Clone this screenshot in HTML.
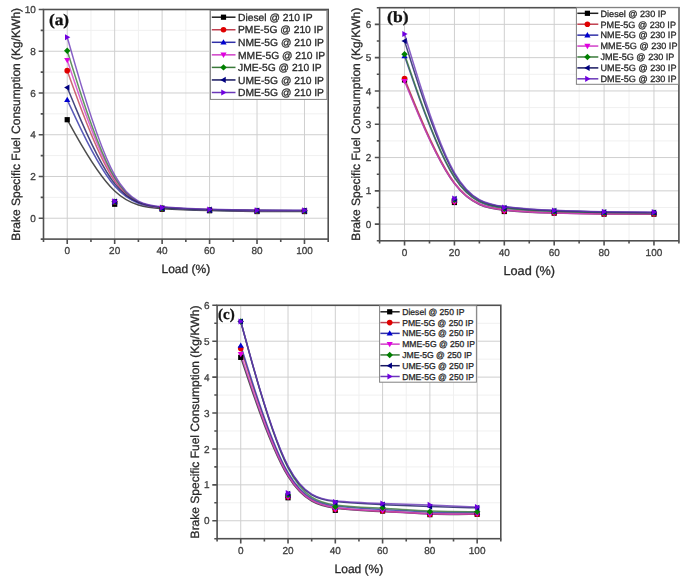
<!DOCTYPE html>
<html><head><meta charset="utf-8"><style>
html,body{margin:0;padding:0;background:#fff;width:685px;height:581px;overflow:hidden}
svg{display:block;filter:blur(0.45px);text-rendering:geometricPrecision}
text{fill:#2a2a2a;stroke:#2a2a2a;stroke-width:0.3px}
.tk{fill:#404040;stroke:#404040}
</style></head><body>
<svg width="685" height="581" viewBox="0 0 685 581" font-family='"Liberation Sans", sans-serif' fill="#222">
<line x1="90.95" y1="9.5" x2="90.95" y2="239.1" stroke="#f0f0f0" stroke-width="1"/>
<line x1="138.4" y1="9.5" x2="138.4" y2="239.1" stroke="#f0f0f0" stroke-width="1"/>
<line x1="185.85" y1="9.5" x2="185.85" y2="239.1" stroke="#f0f0f0" stroke-width="1"/>
<line x1="233.3" y1="9.5" x2="233.3" y2="239.1" stroke="#f0f0f0" stroke-width="1"/>
<line x1="280.75" y1="9.5" x2="280.75" y2="239.1" stroke="#f0f0f0" stroke-width="1"/>
<line x1="43.5" y1="197.35" x2="328.2" y2="197.35" stroke="#f0f0f0" stroke-width="1"/>
<line x1="43.5" y1="155.61" x2="328.2" y2="155.61" stroke="#f0f0f0" stroke-width="1"/>
<line x1="43.5" y1="113.86" x2="328.2" y2="113.86" stroke="#f0f0f0" stroke-width="1"/>
<line x1="43.5" y1="72.12" x2="328.2" y2="72.12" stroke="#f0f0f0" stroke-width="1"/>
<line x1="43.5" y1="30.37" x2="328.2" y2="30.37" stroke="#f0f0f0" stroke-width="1"/>
<line x1="67.22" y1="9.5" x2="67.22" y2="239.1" stroke="#cfcfcf" stroke-width="1"/>
<line x1="114.67" y1="9.5" x2="114.67" y2="239.1" stroke="#cfcfcf" stroke-width="1"/>
<line x1="162.12" y1="9.5" x2="162.12" y2="239.1" stroke="#cfcfcf" stroke-width="1"/>
<line x1="209.58" y1="9.5" x2="209.58" y2="239.1" stroke="#cfcfcf" stroke-width="1"/>
<line x1="257.02" y1="9.5" x2="257.02" y2="239.1" stroke="#cfcfcf" stroke-width="1"/>
<line x1="304.47" y1="9.5" x2="304.47" y2="239.1" stroke="#cfcfcf" stroke-width="1"/>
<line x1="43.5" y1="218.23" x2="328.2" y2="218.23" stroke="#cfcfcf" stroke-width="1"/>
<line x1="43.5" y1="176.48" x2="328.2" y2="176.48" stroke="#cfcfcf" stroke-width="1"/>
<line x1="43.5" y1="134.74" x2="328.2" y2="134.74" stroke="#cfcfcf" stroke-width="1"/>
<line x1="43.5" y1="92.99" x2="328.2" y2="92.99" stroke="#cfcfcf" stroke-width="1"/>
<line x1="43.5" y1="51.25" x2="328.2" y2="51.25" stroke="#cfcfcf" stroke-width="1"/>
<g fill="none" stroke-width="1.5" stroke-opacity="0.8">
<path d="M67.22,119.71C67.22,119.71 67.22,119.71 75.13,133.8C83.04,147.89 98.86,176.06 114.67,190.99C130.49,205.91 146.31,207.58 162.12,208.66C177.94,209.74 193.76,210.23 209.58,210.61C225.39,210.99 241.21,211.27 257.02,211.41C272.84,211.55 288.66,211.55 296.57,211.55C304.47,211.55 304.47,211.55 304.47,211.55" stroke="#202020"/>
<path d="M67.22,70.66C67.22,70.66 67.22,70.66 75.13,92.54C83.04,114.42 98.86,158.18 114.67,181.14C130.49,204.1 146.31,206.26 162.12,207.62C177.94,208.97 193.76,209.53 209.58,209.95C225.39,210.37 241.21,210.64 257.02,210.78C272.84,210.92 288.66,210.92 296.57,210.92C304.47,210.92 304.47,210.92 304.47,210.92" stroke="#c04050"/>
<path d="M67.22,99.88C67.22,99.88 67.22,99.88 75.13,116.89C83.04,133.9 98.86,167.92 114.67,186.05C130.49,204.17 146.31,206.4 162.12,207.79C177.94,209.18 193.76,209.74 209.58,210.16C225.39,210.57 241.21,210.85 257.02,210.99C272.84,211.13 288.66,211.13 296.57,211.13C304.47,211.13 304.47,211.13 304.47,211.13" stroke="#3030a8"/>
<path d="M67.22,60.22C67.22,60.22 67.22,60.22 75.13,83.77C83.04,107.32 98.86,154.43 114.67,179.09C130.49,203.76 146.31,205.98 162.12,207.37C177.94,208.76 193.76,209.32 209.58,209.74C225.39,210.16 241.21,210.43 257.02,210.57C272.84,210.71 288.66,210.71 296.57,210.71C304.47,210.71 304.47,210.71 304.47,210.71" stroke="#d040c8"/>
<path d="M67.22,50.83C67.22,50.83 67.22,50.83 75.13,75.98C83.04,101.13 98.86,151.43 114.67,177.66C130.49,203.89 146.31,206.05 162.12,207.41C177.94,208.76 193.76,209.32 209.58,209.74C225.39,210.16 241.21,210.43 257.02,210.57C272.84,210.71 288.66,210.71 296.57,210.71C304.47,210.71 304.47,210.71 304.47,210.71" stroke="#3a7a3a"/>
<path d="M67.22,87.56C67.22,87.56 67.22,87.56 75.13,106.56C83.04,125.55 98.86,163.54 114.67,183.61C130.49,203.69 146.31,205.84 162.12,207.2C177.94,208.56 193.76,209.11 209.58,209.53C225.39,209.95 241.21,210.23 257.02,210.37C272.84,210.5 288.66,210.5 296.57,210.5C304.47,210.5 304.47,210.5 304.47,210.5" stroke="#181860"/>
<path d="M67.22,37.26C67.22,37.26 67.22,37.26 75.13,64.6C83.04,91.95 98.86,146.63 114.67,175.02C130.49,203.41 146.31,205.49 162.12,206.85C177.94,208.21 193.76,208.83 209.58,209.29C225.39,209.74 241.21,210.02 257.02,210.16C272.84,210.3 288.66,210.3 296.57,210.3C304.47,210.3 304.47,210.3 304.47,210.3" stroke="#6a38b8"/>
</g>
<rect x="64.62" y="117.11" width="5.2" height="5.2" fill="#000000"/>
<rect x="112.08" y="201.64" width="5.2" height="5.2" fill="#000000"/>
<rect x="159.52" y="206.65" width="5.2" height="5.2" fill="#000000"/>
<rect x="206.97" y="208.11" width="5.2" height="5.2" fill="#000000"/>
<rect x="254.42" y="208.95" width="5.2" height="5.2" fill="#000000"/>
<rect x="301.87" y="208.95" width="5.2" height="5.2" fill="#000000"/>
<circle cx="67.22" cy="70.66" r="2.8" fill="#e00000"/>
<circle cx="114.67" cy="201.95" r="2.8" fill="#e00000"/>
<circle cx="162.12" cy="208.42" r="2.8" fill="#e00000"/>
<circle cx="209.58" cy="210.09" r="2.8" fill="#e00000"/>
<circle cx="257.02" cy="210.92" r="2.8" fill="#e00000"/>
<circle cx="304.47" cy="210.92" r="2.8" fill="#e00000"/>
<path d="M67.22,96.8L70.3,102.12L64.14,102.12Z" fill="#0000d0"/>
<path d="M114.67,198.87L117.75,204.19L111.59,204.19Z" fill="#0000d0"/>
<path d="M162.12,205.55L165.21,210.87L159.04,210.87Z" fill="#0000d0"/>
<path d="M209.58,207.22L212.66,212.54L206.5,212.54Z" fill="#0000d0"/>
<path d="M257.02,208.05L260.1,213.37L253.94,213.37Z" fill="#0000d0"/>
<path d="M304.47,208.05L307.55,213.37L301.39,213.37Z" fill="#0000d0"/>
<path d="M67.22,63.3L70.3,57.98L64.14,57.98Z" fill="#e000e0"/>
<path d="M114.67,204.61L117.75,199.29L111.59,199.29Z" fill="#e000e0"/>
<path d="M162.12,211.29L165.21,205.97L159.04,205.97Z" fill="#e000e0"/>
<path d="M209.58,212.96L212.66,207.64L206.5,207.64Z" fill="#e000e0"/>
<path d="M257.02,213.79L260.1,208.47L253.94,208.47Z" fill="#e000e0"/>
<path d="M304.47,213.79L307.55,208.47L301.39,208.47Z" fill="#e000e0"/>
<path d="M67.22,47.61L70.44,50.83L67.22,54.05L64,50.83Z" fill="#008000"/>
<path d="M114.67,198.52L117.89,201.74L114.67,204.96L111.45,201.74Z" fill="#008000"/>
<path d="M162.12,204.99L165.34,208.21L162.12,211.43L158.91,208.21Z" fill="#008000"/>
<path d="M209.58,206.66L212.8,209.88L209.58,213.1L206.36,209.88Z" fill="#008000"/>
<path d="M257.02,207.49L260.25,210.71L257.02,213.93L253.8,210.71Z" fill="#008000"/>
<path d="M304.47,207.49L307.69,210.71L304.47,213.93L301.25,210.71Z" fill="#008000"/>
<path d="M64.14,87.56L69.46,84.48L69.46,90.64Z" fill="#000080"/>
<path d="M111.59,201.53L116.91,198.45L116.91,204.61Z" fill="#000080"/>
<path d="M159.04,208L164.37,204.92L164.37,211.08Z" fill="#000080"/>
<path d="M206.5,209.67L211.82,206.59L211.82,212.75Z" fill="#000080"/>
<path d="M253.94,210.5L259.26,207.42L259.26,213.58Z" fill="#000080"/>
<path d="M301.39,210.5L306.71,207.42L306.71,213.58Z" fill="#000080"/>
<path d="M70.3,37.26L64.98,34.18L64.98,40.34Z" fill="#7000e0"/>
<path d="M117.75,201.32L112.44,198.24L112.44,204.4Z" fill="#7000e0"/>
<path d="M165.21,207.58L159.88,204.5L159.88,210.66Z" fill="#7000e0"/>
<path d="M212.66,209.46L207.34,206.38L207.34,212.54Z" fill="#7000e0"/>
<path d="M260.1,210.3L254.78,207.22L254.78,213.38Z" fill="#7000e0"/>
<path d="M307.55,210.3L302.23,207.22L302.23,213.38Z" fill="#7000e0"/>
<rect x="43.5" y="9.5" width="284.7" height="229.6" fill="none" stroke="#505050" stroke-width="1.6"/>
<path d="M67.22,239.1v4.8M114.67,239.1v4.8M162.12,239.1v4.8M209.58,239.1v4.8M257.02,239.1v4.8M304.47,239.1v4.8M43.5,239.1v2.8M90.95,239.1v2.8M138.4,239.1v2.8M185.85,239.1v2.8M233.3,239.1v2.8M280.75,239.1v2.8M328.2,239.1v2.8M43.5,218.23h-4.8M43.5,176.48h-4.8M43.5,134.74h-4.8M43.5,92.99h-4.8M43.5,51.25h-4.8M43.5,9.5h-4.8M43.5,239.1h-2.8M43.5,197.35h-2.8M43.5,155.61h-2.8M43.5,113.86h-2.8M43.5,72.12h-2.8M43.5,30.37h-2.8" stroke="#505050" stroke-width="1.6" fill="none"/>
<text x="67.22" y="254.2" text-anchor="middle" font-size="10" class="tk">0</text>
<text x="114.67" y="254.2" text-anchor="middle" font-size="10" class="tk">20</text>
<text x="162.12" y="254.2" text-anchor="middle" font-size="10" class="tk">40</text>
<text x="209.58" y="254.2" text-anchor="middle" font-size="10" class="tk">60</text>
<text x="257.02" y="254.2" text-anchor="middle" font-size="10" class="tk">80</text>
<text x="304.47" y="254.2" text-anchor="middle" font-size="10" class="tk">100</text>
<text x="35.8" y="221.83" text-anchor="end" font-size="10" class="tk">0</text>
<text x="35.8" y="180.08" text-anchor="end" font-size="10" class="tk">2</text>
<text x="35.8" y="138.34" text-anchor="end" font-size="10" class="tk">4</text>
<text x="35.8" y="96.59" text-anchor="end" font-size="10" class="tk">6</text>
<text x="35.8" y="54.85" text-anchor="end" font-size="10" class="tk">8</text>
<text x="35.8" y="13.1" text-anchor="end" font-size="10" class="tk">10</text>
<text x="185.85" y="272.6" text-anchor="middle" font-size="12">Load (%)</text>
<text transform="translate(20.1,124.3) rotate(-90)" text-anchor="middle" font-size="12">Brake Specific Fuel Consumption (Kg/KWh)</text>
<rect x="210.4" y="10.5" width="116.5" height="88.9" fill="#fff" stroke="#808080" stroke-width="1"/>
<line x1="211.8" y1="17.2" x2="235.5" y2="17.2" stroke="#202020" stroke-width="1.5"/>
<rect x="220.9" y="14.6" width="5.2" height="5.2" fill="#000000"/>
<text x="238" y="20.91" font-size="10.3">Diesel @ 210 IP</text>
<line x1="211.8" y1="29.75" x2="235.5" y2="29.75" stroke="#c04050" stroke-width="1.5"/>
<circle cx="223.5" cy="29.75" r="2.8" fill="#e00000"/>
<text x="238" y="33.46" font-size="10.3">PME-5G @ 210 IP</text>
<line x1="211.8" y1="42.3" x2="235.5" y2="42.3" stroke="#3030a8" stroke-width="1.5"/>
<path d="M223.5,39.22L226.58,44.54L220.42,44.54Z" fill="#0000d0"/>
<text x="238" y="46.01" font-size="10.3">NME-5G @ 210 IP</text>
<line x1="211.8" y1="54.85" x2="235.5" y2="54.85" stroke="#d040c8" stroke-width="1.5"/>
<path d="M223.5,57.93L226.58,52.61L220.42,52.61Z" fill="#e000e0"/>
<text x="238" y="58.56" font-size="10.3">MME-5G @ 210 IP</text>
<line x1="211.8" y1="67.4" x2="235.5" y2="67.4" stroke="#3a7a3a" stroke-width="1.5"/>
<path d="M223.5,64.18L226.72,67.4L223.5,70.62L220.28,67.4Z" fill="#008000"/>
<text x="238" y="71.11" font-size="10.3">JME-5G @ 210 IP</text>
<line x1="211.8" y1="79.95" x2="235.5" y2="79.95" stroke="#181860" stroke-width="1.5"/>
<path d="M220.42,79.95L225.74,76.87L225.74,83.03Z" fill="#000080"/>
<text x="238" y="83.66" font-size="10.3">UME-5G @ 210 IP</text>
<line x1="211.8" y1="92.5" x2="235.5" y2="92.5" stroke="#6a38b8" stroke-width="1.5"/>
<path d="M226.58,92.5L221.26,89.42L221.26,95.58Z" fill="#7000e0"/>
<text x="238" y="96.21" font-size="10.3">DME-5G @ 210 IP</text>
<text transform="translate(48.9,24.8) scale(1.07,1)" font-family='"Liberation Serif", serif' font-weight="bold" font-size="16.2" style="fill:#111;stroke:#111">(a)</text>
<line x1="429.48" y1="7.7" x2="429.48" y2="240.8" stroke="#f0f0f0" stroke-width="1"/>
<line x1="479.37" y1="7.7" x2="479.37" y2="240.8" stroke="#f0f0f0" stroke-width="1"/>
<line x1="529.25" y1="7.7" x2="529.25" y2="240.8" stroke="#f0f0f0" stroke-width="1"/>
<line x1="579.13" y1="7.7" x2="579.13" y2="240.8" stroke="#f0f0f0" stroke-width="1"/>
<line x1="629.02" y1="7.7" x2="629.02" y2="240.8" stroke="#f0f0f0" stroke-width="1"/>
<line x1="379.6" y1="207.5" x2="678.9" y2="207.5" stroke="#f0f0f0" stroke-width="1"/>
<line x1="379.6" y1="174.2" x2="678.9" y2="174.2" stroke="#f0f0f0" stroke-width="1"/>
<line x1="379.6" y1="140.9" x2="678.9" y2="140.9" stroke="#f0f0f0" stroke-width="1"/>
<line x1="379.6" y1="107.6" x2="678.9" y2="107.6" stroke="#f0f0f0" stroke-width="1"/>
<line x1="379.6" y1="74.3" x2="678.9" y2="74.3" stroke="#f0f0f0" stroke-width="1"/>
<line x1="379.6" y1="41" x2="678.9" y2="41" stroke="#f0f0f0" stroke-width="1"/>
<line x1="404.54" y1="7.7" x2="404.54" y2="240.8" stroke="#cfcfcf" stroke-width="1"/>
<line x1="454.43" y1="7.7" x2="454.43" y2="240.8" stroke="#cfcfcf" stroke-width="1"/>
<line x1="504.31" y1="7.7" x2="504.31" y2="240.8" stroke="#cfcfcf" stroke-width="1"/>
<line x1="554.19" y1="7.7" x2="554.19" y2="240.8" stroke="#cfcfcf" stroke-width="1"/>
<line x1="604.08" y1="7.7" x2="604.08" y2="240.8" stroke="#cfcfcf" stroke-width="1"/>
<line x1="653.96" y1="7.7" x2="653.96" y2="240.8" stroke="#cfcfcf" stroke-width="1"/>
<line x1="379.6" y1="224.15" x2="678.9" y2="224.15" stroke="#cfcfcf" stroke-width="1"/>
<line x1="379.6" y1="190.85" x2="678.9" y2="190.85" stroke="#cfcfcf" stroke-width="1"/>
<line x1="379.6" y1="157.55" x2="678.9" y2="157.55" stroke="#cfcfcf" stroke-width="1"/>
<line x1="379.6" y1="124.25" x2="678.9" y2="124.25" stroke="#cfcfcf" stroke-width="1"/>
<line x1="379.6" y1="90.95" x2="678.9" y2="90.95" stroke="#cfcfcf" stroke-width="1"/>
<line x1="379.6" y1="57.65" x2="678.9" y2="57.65" stroke="#cfcfcf" stroke-width="1"/>
<line x1="379.6" y1="24.35" x2="678.9" y2="24.35" stroke="#cfcfcf" stroke-width="1"/>
<g fill="none" stroke-width="1.5" stroke-opacity="0.8">
<path d="M404.54,79.96C404.54,79.96 404.54,79.96 412.86,100.38C421.17,120.81 437.8,161.66 454.43,183.58C471.05,205.5 487.68,208.5 504.31,210.28C520.94,212.05 537.56,212.61 554.19,213.05C570.82,213.49 587.45,213.83 604.07,213.99C620.7,214.16 637.33,214.16 645.64,214.16C653.96,214.16 653.96,214.16 653.96,214.16" stroke="#202020"/>
<path d="M404.54,78.63C404.54,78.63 404.54,78.63 412.86,99.11C421.17,119.59 437.8,160.55 454.43,182.58C471.05,204.61 487.68,207.72 504.31,209.61C520.94,211.5 537.56,212.16 554.19,212.66C570.82,213.16 587.45,213.49 604.07,213.66C620.7,213.83 637.33,213.83 645.64,213.83C653.96,213.83 653.96,213.83 653.96,213.83" stroke="#c04050"/>
<path d="M404.54,55.99C404.54,55.99 404.54,55.99 412.86,80.02C421.17,104.05 437.8,152.11 454.43,177.64C471.05,203.17 487.68,206.17 504.31,208.06C520.94,209.94 537.56,210.72 554.19,211.33C570.82,211.94 587.45,212.38 604.07,212.61C620.7,212.83 637.33,212.83 645.64,212.83C653.96,212.83 653.96,212.83 653.96,212.83" stroke="#3030a8"/>
<path d="M404.54,81.29C404.54,81.29 404.54,81.29 412.86,101.44C421.17,121.59 437.8,161.88 454.43,183.52C471.05,205.17 487.68,208.17 504.31,210C520.94,211.83 537.56,212.5 554.19,212.99C570.82,213.49 587.45,213.83 604.07,213.94C620.7,214.05 637.33,213.94 645.64,213.88C653.96,213.83 653.96,213.83 653.96,213.83" stroke="#d040c8"/>
<path d="M404.54,54.32C404.54,54.32 404.54,54.32 412.86,78.57C421.17,102.83 437.8,151.33 454.43,177.09C471.05,202.84 487.68,205.84 504.31,207.78C520.94,209.72 537.56,210.61 554.19,211.27C570.82,211.94 587.45,212.38 604.07,212.61C620.7,212.83 637.33,212.83 645.64,212.83C653.96,212.83 653.96,212.83 653.96,212.83" stroke="#3a7a3a"/>
<path d="M404.54,41C404.54,41 404.54,41 412.86,67.31C421.17,93.61 437.8,146.23 454.43,174.03C471.05,201.84 487.68,204.84 504.31,206.83C520.94,208.83 537.56,209.83 554.19,210.55C570.82,211.27 587.45,211.72 604.07,212C620.7,212.27 637.33,212.38 645.64,212.44C653.96,212.5 653.96,212.5 653.96,212.49" stroke="#181860"/>
<path d="M404.54,34.01C404.54,34.01 404.54,34.01 412.86,61.42C421.17,88.84 437.8,143.68 454.43,172.59C471.05,201.51 487.68,204.5 504.31,206.5C520.94,208.5 537.56,209.5 554.19,210.22C570.82,210.94 587.45,211.38 604.07,211.66C620.7,211.94 637.33,212.05 645.64,212.11C653.96,212.16 653.96,212.16 653.96,212.16" stroke="#6a38b8"/>
</g>
<rect x="401.94" y="77.36" width="5.2" height="5.2" fill="#000000"/>
<rect x="451.82" y="199.9" width="5.2" height="5.2" fill="#000000"/>
<rect x="501.71" y="208.9" width="5.2" height="5.2" fill="#000000"/>
<rect x="551.59" y="210.56" width="5.2" height="5.2" fill="#000000"/>
<rect x="601.48" y="211.56" width="5.2" height="5.2" fill="#000000"/>
<rect x="651.36" y="211.56" width="5.2" height="5.2" fill="#000000"/>
<circle cx="404.54" cy="78.63" r="2.8" fill="#e00000"/>
<circle cx="454.43" cy="201.51" r="2.8" fill="#e00000"/>
<circle cx="504.31" cy="210.83" r="2.8" fill="#e00000"/>
<circle cx="554.19" cy="212.83" r="2.8" fill="#e00000"/>
<circle cx="604.08" cy="213.83" r="2.8" fill="#e00000"/>
<circle cx="653.96" cy="213.83" r="2.8" fill="#e00000"/>
<path d="M404.54,52.91L407.62,58.23L401.46,58.23Z" fill="#0000d0"/>
<path d="M454.43,197.09L457.5,202.41L451.35,202.41Z" fill="#0000d0"/>
<path d="M504.31,206.09L507.39,211.41L501.23,211.41Z" fill="#0000d0"/>
<path d="M554.19,208.42L557.27,213.74L551.11,213.74Z" fill="#0000d0"/>
<path d="M604.08,209.75L607.16,215.07L601,215.07Z" fill="#0000d0"/>
<path d="M653.96,209.75L657.04,215.07L650.88,215.07Z" fill="#0000d0"/>
<path d="M404.54,84.37L407.62,79.05L401.46,79.05Z" fill="#e000e0"/>
<path d="M454.43,205.25L457.5,199.93L451.35,199.93Z" fill="#e000e0"/>
<path d="M504.31,214.24L507.39,208.92L501.23,208.92Z" fill="#e000e0"/>
<path d="M554.19,216.24L557.27,210.92L551.11,210.92Z" fill="#e000e0"/>
<path d="M604.08,217.24L607.16,211.92L601,211.92Z" fill="#e000e0"/>
<path d="M653.96,216.91L657.04,211.59L650.88,211.59Z" fill="#e000e0"/>
<path d="M404.54,51.1L407.76,54.32L404.54,57.54L401.32,54.32Z" fill="#008000"/>
<path d="M454.43,196.62L457.65,199.84L454.43,203.06L451.2,199.84Z" fill="#008000"/>
<path d="M504.31,205.61L507.53,208.83L504.31,212.05L501.09,208.83Z" fill="#008000"/>
<path d="M554.19,208.28L557.41,211.5L554.19,214.72L550.97,211.5Z" fill="#008000"/>
<path d="M604.08,209.61L607.3,212.83L604.08,216.05L600.86,212.83Z" fill="#008000"/>
<path d="M653.96,209.61L657.18,212.83L653.96,216.05L650.74,212.83Z" fill="#008000"/>
<path d="M401.46,41L406.78,37.92L406.78,44.08Z" fill="#000080"/>
<path d="M451.35,198.84L456.67,195.76L456.67,201.92Z" fill="#000080"/>
<path d="M501.23,207.83L506.55,204.75L506.55,210.91Z" fill="#000080"/>
<path d="M551.11,210.83L556.43,207.75L556.43,213.91Z" fill="#000080"/>
<path d="M601,212.16L606.32,209.08L606.32,215.24Z" fill="#000080"/>
<path d="M650.88,212.5L656.2,209.41L656.2,215.58Z" fill="#000080"/>
<path d="M407.62,34.01L402.3,30.93L402.3,37.09Z" fill="#7000e0"/>
<path d="M457.5,198.51L452.19,195.43L452.19,201.59Z" fill="#7000e0"/>
<path d="M507.39,207.5L502.07,204.42L502.07,210.58Z" fill="#7000e0"/>
<path d="M557.27,210.5L551.95,207.42L551.95,213.58Z" fill="#7000e0"/>
<path d="M607.16,211.83L601.84,208.75L601.84,214.91Z" fill="#7000e0"/>
<path d="M657.04,212.16L651.72,209.08L651.72,215.24Z" fill="#7000e0"/>
<rect x="379.6" y="7.7" width="299.3" height="233.1" fill="none" stroke="#505050" stroke-width="1.6"/>
<path d="M404.54,240.8v4.8M454.43,240.8v4.8M504.31,240.8v4.8M554.19,240.8v4.8M604.08,240.8v4.8M653.96,240.8v4.8M379.6,240.8v2.8M429.48,240.8v2.8M479.37,240.8v2.8M529.25,240.8v2.8M579.13,240.8v2.8M629.02,240.8v2.8M678.9,240.8v2.8M379.6,224.15h-4.8M379.6,190.85h-4.8M379.6,157.55h-4.8M379.6,124.25h-4.8M379.6,90.95h-4.8M379.6,57.65h-4.8M379.6,24.35h-4.8M379.6,240.8h-2.8M379.6,207.5h-2.8M379.6,174.2h-2.8M379.6,140.9h-2.8M379.6,107.6h-2.8M379.6,74.3h-2.8M379.6,41h-2.8M379.6,7.7h-2.8" stroke="#505050" stroke-width="1.6" fill="none"/>
<text x="404.54" y="256.2" text-anchor="middle" font-size="10" class="tk">0</text>
<text x="454.43" y="256.2" text-anchor="middle" font-size="10" class="tk">20</text>
<text x="504.31" y="256.2" text-anchor="middle" font-size="10" class="tk">40</text>
<text x="554.19" y="256.2" text-anchor="middle" font-size="10" class="tk">60</text>
<text x="604.08" y="256.2" text-anchor="middle" font-size="10" class="tk">80</text>
<text x="653.96" y="256.2" text-anchor="middle" font-size="10" class="tk">100</text>
<text x="371.2" y="227.75" text-anchor="end" font-size="10" class="tk">0</text>
<text x="371.2" y="194.45" text-anchor="end" font-size="10" class="tk">1</text>
<text x="371.2" y="161.15" text-anchor="end" font-size="10" class="tk">2</text>
<text x="371.2" y="127.85" text-anchor="end" font-size="10" class="tk">3</text>
<text x="371.2" y="94.55" text-anchor="end" font-size="10" class="tk">4</text>
<text x="371.2" y="61.25" text-anchor="end" font-size="10" class="tk">5</text>
<text x="371.2" y="27.95" text-anchor="end" font-size="10" class="tk">6</text>
<text x="529.25" y="274.8" text-anchor="middle" font-size="12.7">Load (%)</text>
<text transform="translate(360.2,124.25) rotate(-90)" text-anchor="middle" font-size="12">Brake Specific Fuel Consumption (Kg/KWh)</text>
<rect x="576.4" y="7.7" width="102.2" height="76.6" fill="#fff" stroke="#808080" stroke-width="1"/>
<line x1="577.3" y1="13.3" x2="598.3" y2="13.3" stroke="#202020" stroke-width="1.5"/>
<rect x="584.8" y="10.7" width="5.2" height="5.2" fill="#000000"/>
<text x="600.5" y="16.58" font-size="9.1">Diesel @ 230 IP</text>
<line x1="577.3" y1="24.22" x2="598.3" y2="24.22" stroke="#c04050" stroke-width="1.5"/>
<circle cx="587.4" cy="24.22" r="2.8" fill="#e00000"/>
<text x="600.5" y="27.5" font-size="9.1">PME-5G @ 230 IP</text>
<line x1="577.3" y1="35.14" x2="598.3" y2="35.14" stroke="#3030a8" stroke-width="1.5"/>
<path d="M587.4,32.06L590.48,37.38L584.32,37.38Z" fill="#0000d0"/>
<text x="600.5" y="38.42" font-size="9.1">NME-5G @ 230 IP</text>
<line x1="577.3" y1="46.06" x2="598.3" y2="46.06" stroke="#d040c8" stroke-width="1.5"/>
<path d="M587.4,49.14L590.48,43.82L584.32,43.82Z" fill="#e000e0"/>
<text x="600.5" y="49.34" font-size="9.1">MME-5G @ 230 IP</text>
<line x1="577.3" y1="56.98" x2="598.3" y2="56.98" stroke="#3a7a3a" stroke-width="1.5"/>
<path d="M587.4,53.76L590.62,56.98L587.4,60.2L584.18,56.98Z" fill="#008000"/>
<text x="600.5" y="60.26" font-size="9.1">JME-5G @ 230 IP</text>
<line x1="577.3" y1="67.9" x2="598.3" y2="67.9" stroke="#181860" stroke-width="1.5"/>
<path d="M584.32,67.9L589.64,64.82L589.64,70.98Z" fill="#000080"/>
<text x="600.5" y="71.18" font-size="9.1">UME-5G @ 230 IP</text>
<line x1="577.3" y1="78.82" x2="598.3" y2="78.82" stroke="#6a38b8" stroke-width="1.5"/>
<path d="M590.48,78.82L585.16,75.74L585.16,81.9Z" fill="#7000e0"/>
<text x="600.5" y="82.1" font-size="9.1">DME-5G @ 230 IP</text>
<text transform="translate(387.1,21.8) scale(1.13,1)" font-family='"Liberation Serif", serif' font-weight="bold" font-size="15.5" style="fill:#111;stroke:#111">(b)</text>
<line x1="264.38" y1="305.3" x2="264.38" y2="538.7" stroke="#f0f0f0" stroke-width="1"/>
<line x1="311.67" y1="305.3" x2="311.67" y2="538.7" stroke="#f0f0f0" stroke-width="1"/>
<line x1="358.95" y1="305.3" x2="358.95" y2="538.7" stroke="#f0f0f0" stroke-width="1"/>
<line x1="406.23" y1="305.3" x2="406.23" y2="538.7" stroke="#f0f0f0" stroke-width="1"/>
<line x1="453.52" y1="305.3" x2="453.52" y2="538.7" stroke="#f0f0f0" stroke-width="1"/>
<line x1="217.1" y1="502.79" x2="500.8" y2="502.79" stroke="#f0f0f0" stroke-width="1"/>
<line x1="217.1" y1="466.88" x2="500.8" y2="466.88" stroke="#f0f0f0" stroke-width="1"/>
<line x1="217.1" y1="430.98" x2="500.8" y2="430.98" stroke="#f0f0f0" stroke-width="1"/>
<line x1="217.1" y1="395.07" x2="500.8" y2="395.07" stroke="#f0f0f0" stroke-width="1"/>
<line x1="217.1" y1="359.16" x2="500.8" y2="359.16" stroke="#f0f0f0" stroke-width="1"/>
<line x1="217.1" y1="323.25" x2="500.8" y2="323.25" stroke="#f0f0f0" stroke-width="1"/>
<line x1="240.74" y1="305.3" x2="240.74" y2="538.7" stroke="#cfcfcf" stroke-width="1"/>
<line x1="288.02" y1="305.3" x2="288.02" y2="538.7" stroke="#cfcfcf" stroke-width="1"/>
<line x1="335.31" y1="305.3" x2="335.31" y2="538.7" stroke="#cfcfcf" stroke-width="1"/>
<line x1="382.59" y1="305.3" x2="382.59" y2="538.7" stroke="#cfcfcf" stroke-width="1"/>
<line x1="429.88" y1="305.3" x2="429.88" y2="538.7" stroke="#cfcfcf" stroke-width="1"/>
<line x1="477.16" y1="305.3" x2="477.16" y2="538.7" stroke="#cfcfcf" stroke-width="1"/>
<line x1="217.1" y1="520.75" x2="500.8" y2="520.75" stroke="#cfcfcf" stroke-width="1"/>
<line x1="217.1" y1="484.84" x2="500.8" y2="484.84" stroke="#cfcfcf" stroke-width="1"/>
<line x1="217.1" y1="448.93" x2="500.8" y2="448.93" stroke="#cfcfcf" stroke-width="1"/>
<line x1="217.1" y1="413.02" x2="500.8" y2="413.02" stroke="#cfcfcf" stroke-width="1"/>
<line x1="217.1" y1="377.12" x2="500.8" y2="377.12" stroke="#cfcfcf" stroke-width="1"/>
<line x1="217.1" y1="341.21" x2="500.8" y2="341.21" stroke="#cfcfcf" stroke-width="1"/>
<g fill="none" stroke-width="1.5" stroke-opacity="0.8">
<path d="M240.74,357.37C240.74,357.37 240.74,357.37 248.62,380.77C256.5,404.17 272.26,450.97 288.03,476.46C303.79,501.95 319.55,506.14 335.31,508.36C351.07,510.57 366.83,510.81 382.59,511.53C398.35,512.25 414.11,513.44 429.88,513.98C445.64,514.52 461.4,514.4 469.28,514.34C477.16,514.28 477.16,514.28 477.16,514.28" stroke="#202020"/>
<path d="M240.74,348.39C240.74,348.39 240.74,348.39 248.62,373.11C256.5,397.82 272.26,447.26 288.03,474.07C303.79,500.88 319.55,505.07 335.31,507.4C351.07,509.73 366.83,510.21 382.59,511.05C398.35,511.89 414.11,513.09 429.88,513.62C445.64,514.16 461.4,514.04 469.28,513.98C477.16,513.92 477.16,513.92 477.16,513.92" stroke="#c04050"/>
<path d="M240.74,345.52C240.74,345.52 240.74,345.52 248.62,370.53C256.5,395.55 272.26,445.58 288.03,472.63C303.79,499.68 319.55,503.75 335.31,505.96C351.07,508.18 366.83,508.54 382.59,509.38C398.35,510.21 414.11,511.53 429.88,512.13C445.64,512.73 461.4,512.61 469.28,512.55C477.16,512.49 477.16,512.49 477.16,512.49" stroke="#3030a8"/>
<path d="M240.74,354.13C240.74,354.13 240.74,354.13 248.62,377.95C256.5,401.77 272.26,449.41 288.03,475.32C303.79,501.24 319.55,505.43 335.31,507.7C351.07,509.97 366.83,510.33 382.59,511.17C398.35,512.01 414.11,513.33 429.88,513.86C445.64,514.4 461.4,514.16 469.28,514.04C477.16,513.92 477.16,513.92 477.16,513.92" stroke="#d040c8"/>
<path d="M240.74,321.46C240.74,321.46 240.74,321.46 248.62,350.36C256.5,379.27 272.26,437.08 288.03,467.96C303.79,498.84 319.55,502.79 335.31,504.95C351.07,507.1 366.83,507.46 382.59,508.3C398.35,509.14 414.11,510.45 429.88,511.11C445.64,511.77 461.4,511.77 469.28,511.77C477.16,511.77 477.16,511.77 477.16,511.77" stroke="#3a7a3a"/>
<path d="M240.74,321.46C240.74,321.46 240.74,321.46 248.62,350.18C256.5,378.91 272.26,436.36 288.03,466.59C303.79,496.81 319.55,499.8 335.31,501.6C351.07,503.39 366.83,503.99 382.59,504.65C398.35,505.31 414.11,506.02 429.88,506.56C445.64,507.1 461.4,507.46 469.28,507.64C477.16,507.82 477.16,507.82 477.16,507.82" stroke="#181860"/>
<path d="M240.74,321.46C240.74,321.46 240.74,321.46 248.62,350.06C256.5,378.67 272.26,435.88 288.03,465.99C303.79,496.09 319.55,499.08 335.31,500.82C351.07,502.55 366.83,503.03 382.59,503.51C398.35,503.99 414.11,504.47 429.88,505.07C445.64,505.66 461.4,506.38 469.28,506.74C477.16,507.1 477.16,507.1 477.16,507.1" stroke="#6a38b8"/>
</g>
<rect x="238.14" y="354.77" width="5.2" height="5.2" fill="#000000"/>
<rect x="285.42" y="495.17" width="5.2" height="5.2" fill="#000000"/>
<rect x="332.71" y="507.73" width="5.2" height="5.2" fill="#000000"/>
<rect x="379.99" y="508.45" width="5.2" height="5.2" fill="#000000"/>
<rect x="427.27" y="512.04" width="5.2" height="5.2" fill="#000000"/>
<rect x="474.56" y="511.68" width="5.2" height="5.2" fill="#000000"/>
<circle cx="240.74" cy="348.39" r="2.8" fill="#e00000"/>
<circle cx="288.02" cy="496.69" r="2.8" fill="#e00000"/>
<circle cx="335.31" cy="509.26" r="2.8" fill="#e00000"/>
<circle cx="382.59" cy="510.69" r="2.8" fill="#e00000"/>
<circle cx="429.88" cy="514.28" r="2.8" fill="#e00000"/>
<circle cx="477.16" cy="513.92" r="2.8" fill="#e00000"/>
<path d="M240.74,342.44L243.82,347.76L237.66,347.76Z" fill="#0000d0"/>
<path d="M288.02,492.53L291.1,497.85L284.94,497.85Z" fill="#0000d0"/>
<path d="M335.31,504.74L338.39,510.06L332.23,510.06Z" fill="#0000d0"/>
<path d="M382.59,505.82L385.67,511.14L379.51,511.14Z" fill="#0000d0"/>
<path d="M429.88,509.77L432.95,515.09L426.8,515.09Z" fill="#0000d0"/>
<path d="M477.16,509.41L480.24,514.73L474.08,514.73Z" fill="#0000d0"/>
<path d="M240.74,357.21L243.82,351.89L237.66,351.89Z" fill="#e000e0"/>
<path d="M288.02,500.13L291.1,494.81L284.94,494.81Z" fill="#e000e0"/>
<path d="M335.31,512.69L338.39,507.37L332.23,507.37Z" fill="#e000e0"/>
<path d="M382.59,513.77L385.67,508.45L379.51,508.45Z" fill="#e000e0"/>
<path d="M429.88,517.72L432.95,512.4L426.8,512.4Z" fill="#e000e0"/>
<path d="M477.16,517L480.24,511.68L474.08,511.68Z" fill="#e000e0"/>
<path d="M240.74,318.24L243.96,321.46L240.74,324.68L237.52,321.46Z" fill="#008000"/>
<path d="M288.02,491.67L291.25,494.89L288.02,498.11L284.8,494.89Z" fill="#008000"/>
<path d="M335.31,503.52L338.53,506.74L335.31,509.96L332.09,506.74Z" fill="#008000"/>
<path d="M382.59,504.6L385.81,507.82L382.59,511.04L379.37,507.82Z" fill="#008000"/>
<path d="M429.88,508.55L433.1,511.77L429.88,514.99L426.65,511.77Z" fill="#008000"/>
<path d="M477.16,508.55L480.38,511.77L477.16,514.99L473.94,511.77Z" fill="#008000"/>
<path d="M237.66,321.46L242.98,318.38L242.98,324.54Z" fill="#000080"/>
<path d="M284.94,493.82L290.26,490.74L290.26,496.9Z" fill="#000080"/>
<path d="M332.23,502.79L337.55,499.71L337.55,505.87Z" fill="#000080"/>
<path d="M379.51,504.59L384.83,501.51L384.83,507.67Z" fill="#000080"/>
<path d="M426.8,506.74L432.12,503.66L432.12,509.82Z" fill="#000080"/>
<path d="M474.08,507.82L479.4,504.74L479.4,510.9Z" fill="#000080"/>
<path d="M243.82,321.46L238.5,318.38L238.5,324.54Z" fill="#7000e0"/>
<path d="M291.1,493.1L285.78,490.02L285.78,496.18Z" fill="#7000e0"/>
<path d="M338.39,502.07L333.07,498.99L333.07,505.15Z" fill="#7000e0"/>
<path d="M385.67,503.51L380.35,500.43L380.35,506.59Z" fill="#7000e0"/>
<path d="M432.95,504.95L427.63,501.87L427.63,508.03Z" fill="#7000e0"/>
<path d="M480.24,507.1L474.92,504.02L474.92,510.18Z" fill="#7000e0"/>
<rect x="217.1" y="305.3" width="283.7" height="233.4" fill="none" stroke="#505050" stroke-width="1.6"/>
<path d="M240.74,538.7v4.8M288.02,538.7v4.8M335.31,538.7v4.8M382.59,538.7v4.8M429.88,538.7v4.8M477.16,538.7v4.8M217.1,538.7v2.8M264.38,538.7v2.8M311.67,538.7v2.8M358.95,538.7v2.8M406.23,538.7v2.8M453.52,538.7v2.8M500.8,538.7v2.8M217.1,520.75h-4.8M217.1,484.84h-4.8M217.1,448.93h-4.8M217.1,413.02h-4.8M217.1,377.12h-4.8M217.1,341.21h-4.8M217.1,305.3h-4.8M217.1,538.7h-2.8M217.1,502.79h-2.8M217.1,466.88h-2.8M217.1,430.98h-2.8M217.1,395.07h-2.8M217.1,359.16h-2.8M217.1,323.25h-2.8" stroke="#505050" stroke-width="1.6" fill="none"/>
<text x="240.74" y="554.3" text-anchor="middle" font-size="10" class="tk">0</text>
<text x="288.02" y="554.3" text-anchor="middle" font-size="10" class="tk">20</text>
<text x="335.31" y="554.3" text-anchor="middle" font-size="10" class="tk">40</text>
<text x="382.59" y="554.3" text-anchor="middle" font-size="10" class="tk">60</text>
<text x="429.88" y="554.3" text-anchor="middle" font-size="10" class="tk">80</text>
<text x="477.16" y="554.3" text-anchor="middle" font-size="10" class="tk">100</text>
<text x="209.6" y="524.35" text-anchor="end" font-size="10" class="tk">0</text>
<text x="209.6" y="488.44" text-anchor="end" font-size="10" class="tk">1</text>
<text x="209.6" y="452.53" text-anchor="end" font-size="10" class="tk">2</text>
<text x="209.6" y="416.62" text-anchor="end" font-size="10" class="tk">3</text>
<text x="209.6" y="380.72" text-anchor="end" font-size="10" class="tk">4</text>
<text x="209.6" y="344.81" text-anchor="end" font-size="10" class="tk">5</text>
<text x="209.6" y="308.9" text-anchor="end" font-size="10" class="tk">6</text>
<text x="358.95" y="572.7" text-anchor="middle" font-size="12">Load (%)</text>
<text transform="translate(199.1,422) rotate(-90)" text-anchor="middle" font-size="12">Brake Specific Fuel Consumption (Kg/KWh)</text>
<rect x="379.6" y="305.7" width="96.8" height="76.5" fill="#fff" stroke="#808080" stroke-width="1"/>
<line x1="380.4" y1="311.8" x2="399.7" y2="311.8" stroke="#202020" stroke-width="1.5"/>
<rect x="387.1" y="309.2" width="5.2" height="5.2" fill="#000000"/>
<text x="402.2" y="314.9" font-size="8.6">Diesel @ 250 IP</text>
<line x1="380.4" y1="322.58" x2="399.7" y2="322.58" stroke="#c04050" stroke-width="1.5"/>
<circle cx="389.7" cy="322.58" r="2.8" fill="#e00000"/>
<text x="402.2" y="325.68" font-size="8.6">PME-5G @ 250 IP</text>
<line x1="380.4" y1="333.36" x2="399.7" y2="333.36" stroke="#3030a8" stroke-width="1.5"/>
<path d="M389.7,330.28L392.78,335.6L386.62,335.6Z" fill="#0000d0"/>
<text x="402.2" y="336.46" font-size="8.6">NME-5G @ 250 IP</text>
<line x1="380.4" y1="344.14" x2="399.7" y2="344.14" stroke="#d040c8" stroke-width="1.5"/>
<path d="M389.7,347.22L392.78,341.9L386.62,341.9Z" fill="#e000e0"/>
<text x="402.2" y="347.24" font-size="8.6">MME-5G @ 250 IP</text>
<line x1="380.4" y1="354.92" x2="399.7" y2="354.92" stroke="#3a7a3a" stroke-width="1.5"/>
<path d="M389.7,351.7L392.92,354.92L389.7,358.14L386.48,354.92Z" fill="#008000"/>
<text x="402.2" y="358.02" font-size="8.6">JME-5G @ 250 IP</text>
<line x1="380.4" y1="365.7" x2="399.7" y2="365.7" stroke="#181860" stroke-width="1.5"/>
<path d="M386.62,365.7L391.94,362.62L391.94,368.78Z" fill="#000080"/>
<text x="402.2" y="368.8" font-size="8.6">UME-5G @ 250 IP</text>
<line x1="380.4" y1="376.48" x2="399.7" y2="376.48" stroke="#6a38b8" stroke-width="1.5"/>
<path d="M392.78,376.48L387.46,373.4L387.46,379.56Z" fill="#7000e0"/>
<text x="402.2" y="379.58" font-size="8.6">DME-5G @ 250 IP</text>
<text transform="translate(218.1,318.7) scale(1.0,1)" font-family='"Liberation Serif", serif' font-weight="bold" font-size="15" style="fill:#111;stroke:#111">(c)</text>
</svg>
</body></html>
